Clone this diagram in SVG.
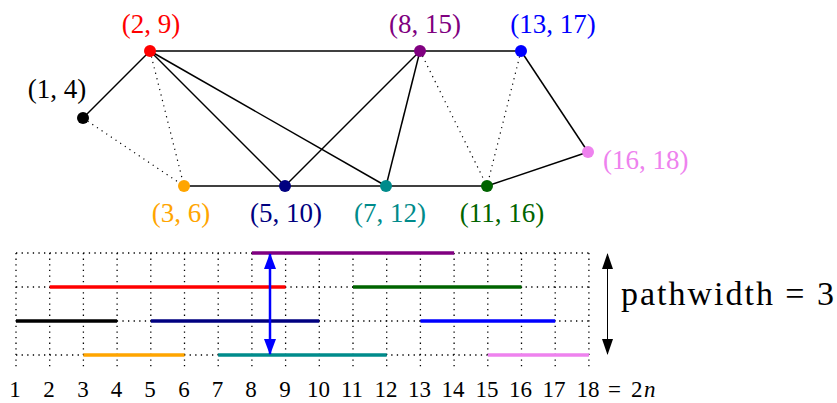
<svg xmlns="http://www.w3.org/2000/svg" width="837" height="403" viewBox="0 0 837 403">
<defs>
<style>
text{font-family:"Liberation Serif","Times New Roman",serif;}
.lbl{font-size:27px;text-anchor:middle;}
.num{font-size:23px;text-anchor:middle;fill:#000;}
.e{stroke:#000;stroke-width:1.5;fill:none;}
.d{stroke:#000;stroke-width:1.2;fill:none;stroke-dasharray:1.2 4.4;}
.g{stroke:#000;stroke-width:1.3;fill:none;stroke-dasharray:1.3 4.3;}
.iv{stroke-width:3.6;fill:none;}
</style>
<marker id="ab" viewBox="0 0 16 12" refX="15" refY="6" markerWidth="16" markerHeight="12" markerUnits="userSpaceOnUse" orient="auto-start-reverse"><path d="M0,0 L16,6 L0,12 Z" fill="#0000ff"/></marker>
<marker id="ak" viewBox="0 0 16 11" refX="15" refY="5.5" markerWidth="16" markerHeight="11" markerUnits="userSpaceOnUse" orient="auto-start-reverse"><path d="M0,0 L16,5.5 L0,11 Z" fill="#000"/></marker>
</defs>
<rect width="837" height="403" fill="#fff"/>
<g id="connectors">
<line class="e" x1="83" y1="118" x2="150" y2="51"/>
<line class="e" x1="150" y1="51" x2="420" y2="51"/>
<line class="e" x1="420" y1="51" x2="521" y2="51"/>
<line class="e" x1="150" y1="51" x2="285" y2="186"/>
<line class="e" x1="150" y1="51" x2="386" y2="186"/>
<line class="e" x1="184" y1="186" x2="285" y2="186"/>
<line class="e" x1="285" y1="186" x2="386" y2="186"/>
<line class="e" x1="386" y1="186" x2="487" y2="186"/>
<line class="e" x1="285" y1="186" x2="420" y2="51"/>
<line class="e" x1="386" y1="186" x2="420" y2="51"/>
<line class="e" x1="521" y1="51" x2="588" y2="152"/>
<line class="e" x1="487" y1="186" x2="588" y2="152"/>
<line class="d" x1="83" y1="118" x2="184" y2="186"/>
<line class="d" x1="150" y1="51" x2="184" y2="186"/>
<line class="d" x1="420" y1="51" x2="487" y2="186"/>
<line class="d" x1="521" y1="51" x2="487" y2="186"/>
</g>
<g id="n14"><circle cx="83" cy="118" r="6" fill="#000"/><text class="lbl" x="57" y="98" fill="#000">(1, 4)</text></g>
<g id="n29"><circle cx="150" cy="51" r="6" fill="#ff0000"/><text class="lbl" x="151" y="33" fill="#ff0000">(2, 9)</text></g>
<g id="n36"><circle cx="184" cy="186" r="6" fill="#ffa500"/><text class="lbl" x="181" y="222" fill="#ffa500">(3, 6)</text></g>
<g id="n510"><circle cx="285" cy="186" r="6" fill="#000080"/><text class="lbl" x="286" y="222" fill="#000080">(5, 10)</text></g>
<g id="n712"><circle cx="386" cy="186" r="6" fill="#008b8b"/><text class="lbl" x="390" y="222" fill="#008b8b">(7, 12)</text></g>
<g id="n1116"><circle cx="487" cy="186" r="6" fill="#006400"/><text class="lbl" x="502" y="222" fill="#006400">(11, 16)</text></g>
<g id="n815"><circle cx="420" cy="51" r="6" fill="#800080"/><text class="lbl" x="425" y="33" fill="#800080">(8, 15)</text></g>
<g id="n1317"><circle cx="521" cy="51" r="6" fill="#0000ff"/><text class="lbl" x="553" y="33" fill="#0000ff">(13, 17)</text></g>
<g id="n1618"><circle cx="588" cy="152" r="6" fill="#ee82ee"/><text class="lbl" x="603" y="169" fill="#ee82ee" style="text-anchor:start">(16, 18)</text></g>
<g id="grid">
<line class="g" x1="16" y1="253" x2="589" y2="253"/>
<line class="g" x1="16" y1="287" x2="589" y2="287"/>
<line class="g" x1="16" y1="321" x2="589" y2="321"/>
<line class="g" x1="16" y1="355" x2="589" y2="355"/>
<line class="g" x1="16" y1="253" x2="16" y2="367"/>
<line class="g" x1="49.7" y1="253" x2="49.7" y2="367"/>
<line class="g" x1="83.4" y1="253" x2="83.4" y2="367"/>
<line class="g" x1="117.1" y1="253" x2="117.1" y2="367"/>
<line class="g" x1="150.8" y1="253" x2="150.8" y2="367"/>
<line class="g" x1="184.5" y1="253" x2="184.5" y2="367"/>
<line class="g" x1="218.2" y1="253" x2="218.2" y2="367"/>
<line class="g" x1="251.9" y1="253" x2="251.9" y2="367"/>
<line class="g" x1="285.6" y1="253" x2="285.6" y2="367"/>
<line class="g" x1="319.3" y1="253" x2="319.3" y2="367"/>
<line class="g" x1="353" y1="253" x2="353" y2="367"/>
<line class="g" x1="386.7" y1="253" x2="386.7" y2="367"/>
<line class="g" x1="420.4" y1="253" x2="420.4" y2="367"/>
<line class="g" x1="454.1" y1="253" x2="454.1" y2="367"/>
<line class="g" x1="487.8" y1="253" x2="487.8" y2="367"/>
<line class="g" x1="521.5" y1="253" x2="521.5" y2="367"/>
<line class="g" x1="555.2" y1="253" x2="555.2" y2="367"/>
<line class="g" x1="588.9" y1="253" x2="588.9" y2="367"/>
</g>
<g id="intervals">
<line class="iv" stroke="#800080" x1="251.9" y1="253" x2="454.1" y2="253"/>
<line class="iv" stroke="#ff0000" x1="49.7" y1="287" x2="285.6" y2="287"/>
<line class="iv" stroke="#006400" x1="353" y1="287" x2="521.5" y2="287"/>
<line class="iv" stroke="#000" x1="16" y1="321" x2="117.1" y2="321"/>
<line class="iv" stroke="#000080" x1="150.8" y1="321" x2="319.3" y2="321"/>
<line class="iv" stroke="#0000ff" x1="420.4" y1="321" x2="555.2" y2="321"/>
<line class="iv" stroke="#ffa500" x1="83.4" y1="355" x2="184.5" y2="355"/>
<line class="iv" stroke="#008b8b" x1="218.2" y1="355" x2="386.7" y2="355"/>
<line class="iv" stroke="#ee82ee" x1="487.8" y1="355" x2="588.9" y2="355"/>
</g>
<g id="arrows">
<line x1="270" y1="254" x2="270" y2="354" stroke="#0000ff" stroke-width="2.5" marker-start="url(#ab)" marker-end="url(#ab)"/>
<line x1="607.5" y1="254" x2="607.5" y2="354" stroke="#000" stroke-width="1" marker-start="url(#ak)" marker-end="url(#ak)"/>
</g>
<text x="621" y="305" font-size="34" textLength="213" lengthAdjust="spacing">pathwidth = 3</text>
<g id="axis">
<text class="num" x="15" y="397">1</text>
<text class="num" x="49" y="397">2</text>
<text class="num" x="83" y="397">3</text>
<text class="num" x="116.5" y="397">4</text>
<text class="num" x="150" y="397">5</text>
<text class="num" x="184" y="397">6</text>
<text class="num" x="217.5" y="397">7</text>
<text class="num" x="251" y="397">8</text>
<text class="num" x="285" y="397">9</text>
<text class="num" x="318.5" y="397">10</text>
<text class="num" x="352" y="397">11</text>
<text class="num" x="386" y="397">12</text>
<text class="num" x="419.5" y="397">13</text>
<text class="num" x="453" y="397">14</text>
<text class="num" x="487" y="397">15</text>
<text class="num" x="520.5" y="397">16</text>
<text class="num" x="554" y="397">17</text>
<text x="576.5" y="397" font-size="23">18<tspan x="608">=</tspan><tspan x="631">2</tspan><tspan x="644" font-style="italic">n</tspan></text>
</g>
</svg>
